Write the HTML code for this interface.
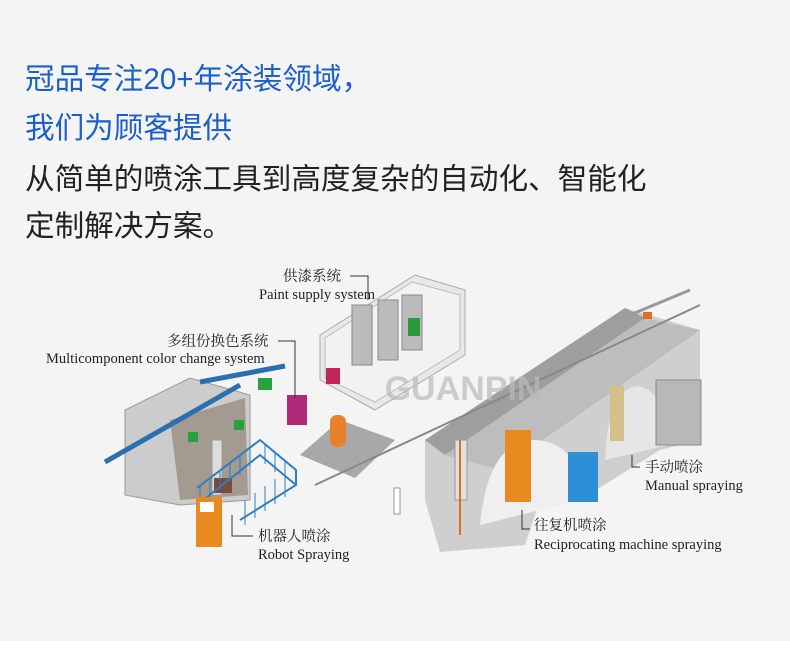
<!DOCTYPE html><html><head><meta charset="utf-8"><style>
body{margin:0;width:790px;height:663px;background:#f4f4f4;overflow:hidden;position:relative;font-family:"Liberation Sans","Noto Sans CJK SC",sans-serif}
.t{position:absolute;left:25px;font-size:29.6px;white-space:nowrap}
.b{color:#1b5fcc}.k{color:#222}
.bot{position:absolute;left:0;top:641px;width:790px;height:22px;background:#fff}
svg{position:absolute;left:0;top:0}
.lb{font-family:"Liberation Serif","Noto Serif CJK SC",serif;font-size:14.5px;fill:#222}
</style></head><body>
<div class="t b" style="top:55px">冠品专注20+年涂装领域，</div>
<div class="t b" style="top:104px">我们为顾客提供</div>
<div class="t k" style="top:155px">从简单的喷涂工具到高度复杂的自动化、智能化</div>
<div class="t k" style="top:202px">定制解决方案。</div>
<div class="bot"></div>
<svg width="790" height="663">
<!-- paint supply room -->
<polygon points="320,335 415,275 465,290 465,355 375,410 320,380" fill="#e8e8e8" stroke="#aaa"/>
<polygon points="325,338 412,282 460,295 460,350 375,402 325,378" fill="#f2f2f2" stroke="#bbb"/>
<g fill="#bbb" stroke="#888"><rect x="352" y="305" width="20" height="60"/><rect x="378" y="300" width="20" height="60"/><rect x="402" y="295" width="20" height="55"/></g>
<rect x="408" y="318" width="12" height="18" fill="#2a9a3a"/>
<rect x="326" y="368" width="14" height="16" fill="#c0245a"/>
<!-- grid floor -->
<polygon points="300,455 340,420 395,440 355,478" fill="#888" opacity="0.7"/>
<rect x="287" y="395" width="20" height="30" fill="#b02a7a"/>
<rect x="330" y="415" width="16" height="32" rx="7" fill="#e8822a"/>
<!-- left booth -->
<polygon points="125,410 190,378 250,395 250,500 180,505 125,495" fill="#ccc" stroke="#999"/>
<polygon points="170,420 245,398 248,495 180,500" fill="#a39a90"/>
<line x1="105" y1="462" x2="240" y2="385" stroke="#2a6fb0" stroke-width="5"/>
<line x1="200" y1="382" x2="285" y2="366" stroke="#2a6fb0" stroke-width="5"/>
<rect x="258" y="378" width="14" height="12" fill="#2aa040"/><rect x="234" y="420" width="10" height="10" fill="#2aa040"/><rect x="188" y="432" width="10" height="10" fill="#2aa040"/>
<rect x="212" y="440" width="10" height="55" fill="#ddd" stroke="#999"/><rect x="214" y="478" width="18" height="15" fill="#7a4a3a"/>
<!-- fence -->
<g stroke="#2f7fc0" stroke-width="2" fill="none"><polyline points="197,488 260,440 296,470 296,485 240,520"/><polyline points="197,505 260,455 296,485"/></g>
<g stroke="#2f7fc0" stroke-width="1"><path d="M200,486v20M210,478v20M220,470v20M230,462v20M240,455v20M250,447v20M265,444v20M275,452v20M285,460v20M245,500v25M255,493v25M265,486v25M275,479v25M285,472v25"/></g>
<rect x="196" y="497" width="26" height="50" fill="#e88a20"/><rect x="200" y="502" width="14" height="10" fill="#fff"/>
<!-- big arch -->
<polygon points="425,440 625,308 700,330 700,440 660,450 580,500 540,500 525,545 440,552 425,500" fill="#cfcfcf"/>
<polygon points="425,440 625,308 645,318 445,455" fill="#9e9e9e"/>
<polygon points="445,455 645,318 700,330 500,470" fill="#bdbdbd"/>
<path d="M480,525 Q488,440 535,440 Q580,442 580,500 Z" fill="#efefef"/>
<path d="M605,460 Q608,388 638,386 Q665,390 668,445 Z" fill="#e6e6e6"/>
<line x1="315" y1="485" x2="700" y2="305" stroke="#888" stroke-width="2"/>
<line x1="630" y1="315" x2="690" y2="290" stroke="#999" stroke-width="3"/>
<rect x="643" y="312" width="9" height="7" fill="#e07020"/>
<rect x="455" y="440" width="12" height="60" fill="#e0e0e0" stroke="#999"/><line x1="460" y1="440" x2="460" y2="535" stroke="#e07020" stroke-width="2"/>
<rect x="505" y="430" width="26" height="72" fill="#e88a20"/>
<rect x="568" y="452" width="30" height="50" fill="#2e8fd6"/>
<rect x="656" y="380" width="45" height="65" fill="#b8b8b8" stroke="#888"/>
<rect x="610" y="386" width="14" height="55" fill="#d6c08a"/>
<rect x="394" y="488" width="6" height="26" fill="#fff" stroke="#999"/>
<text x="463" y="400" font-size="34" font-weight="bold" fill="#bbb" opacity="0.7" text-anchor="middle" font-family="Liberation Sans,sans-serif">GUANPIN</text>
<!-- labels -->
<text class="lb" x="283" y="281">供漆系统</text><text class="lb" x="259" y="299">Paint supply system</text>
<path d="M350,276 H368 V300" stroke="#333" fill="none"/>
<text class="lb" x="167" y="346">多组份换色系统</text><text class="lb" x="46" y="363">Multicomponent color change system</text>
<path d="M278,341 H295 V398" stroke="#333" fill="none"/>
<text class="lb" x="258" y="541">机器人喷涂</text><text class="lb" x="258" y="559">Robot Spraying</text>
<path d="M232,515 V536 H253" stroke="#333" fill="none"/>
<text class="lb" x="534" y="530">往复机喷涂</text><text class="lb" x="534" y="549">Reciprocating machine spraying</text>
<path d="M522,510 V529 H530" stroke="#333" fill="none"/>
<text class="lb" x="645" y="472">手动喷涂</text><text class="lb" x="645" y="490">Manual spraying</text>
<path d="M632,455 V467 H640" stroke="#333" fill="none"/>
</svg>
</body></html>
